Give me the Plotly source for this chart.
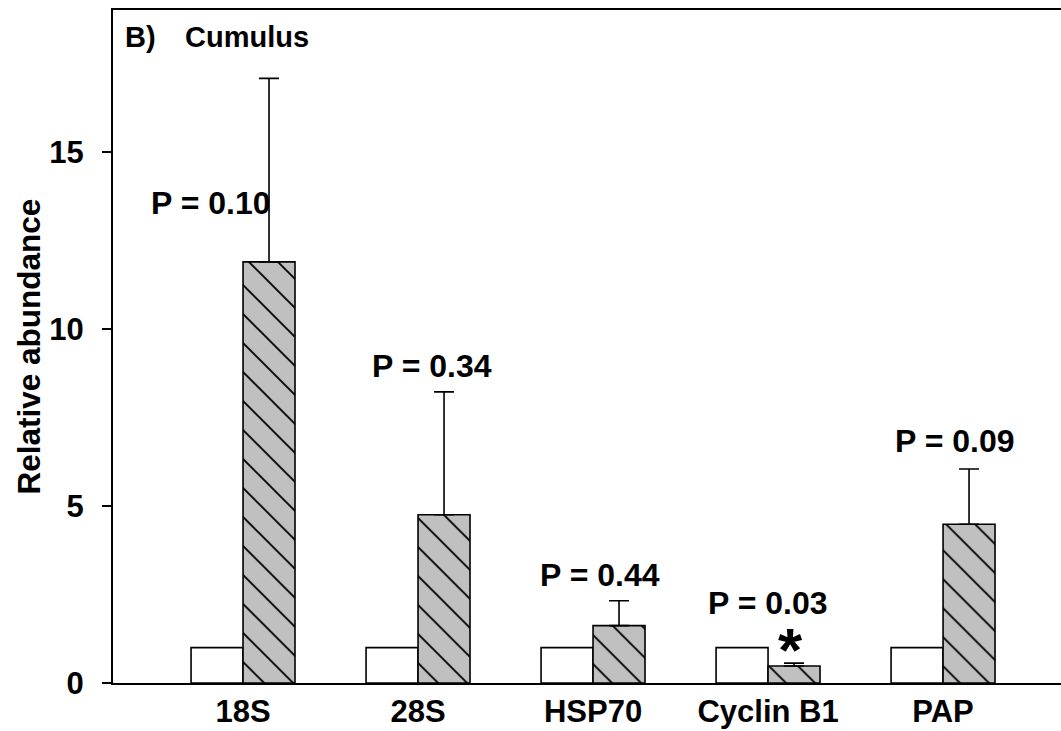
import plotly.graph_objects as go

# ---- data ----
genes = ["18S", "28S", "HSP70", "Cyclin B1", "PAP"]
control = [1.0, 1.0, 1.0, 1.0, 1.0]
treated = [11.89, 4.75, 1.62, 0.48, 4.48]
treated_err = [5.18, 3.47, 0.70, 0.08, 1.56]
p_labels = ["P = 0.10", "P = 0.34", "P = 0.44", "P = 0.03", "P = 0.09"]
y_ticks = [0, 5, 10, 15]

# ---- layout constants ----
FONT = "Liberation Sans, Arial, Helvetica, sans-serif"
BAR_W = 0.297
xpos = list(range(len(genes)))
# label positions (x offset from category, y in data units)
p_pos = [(-0.183, 13.55), (0.08, 8.95), (0.04, 3.05), (0.0, 2.26), (0.07, 6.83)]

fig = go.Figure()
fig.add_trace(go.Bar(
    x=xpos, y=control, width=BAR_W, offset=-BAR_W,
    marker=dict(color="white", line=dict(color="black", width=1.6)),
    showlegend=False,
))
fig.add_trace(go.Bar(
    x=xpos, y=treated, width=BAR_W, offset=0,
    marker=dict(
        color="#c0c0c0",
        line=dict(color="black", width=1.6),
        pattern=dict(shape="\\", size=20.5, solidity=0.09,
                     fgcolor="black", bgcolor="#c0c0c0", fillmode="replace"),
    ),
    error_y=dict(type="data", symmetric=False, array=treated_err,
                 arrayminus=[0] * len(treated_err),
                 color="black", thickness=1.6, width=10),
    showlegend=False,
))

annotations = []
for i, (txt, (dx, yy)) in enumerate(zip(p_labels, p_pos)):
    annotations.append(dict(
        x=xpos[i] + dx, y=yy, xref="x", yref="y", text=txt, showarrow=False,
        xanchor="center", yanchor="middle",
        font=dict(family=FONT, size=32, color="black", weight="bold"),
    ))
# significance asterisk over Cyclin B1 treated bar
annotations.append(dict(
    x=xpos[3] + 0.126, y=0.95, xref="x", yref="y", text="*", showarrow=False,
    xanchor="center", yanchor="middle",
    font=dict(family=FONT, size=62, color="black", weight="bold"),
))
# panel title
annotations.append(dict(
    x=10 / 948, y=(683 - 37) / 673, xref="paper", yref="paper", text="B)",
    showarrow=False, xanchor="left", yanchor="middle",
    font=dict(family=FONT, size=29, color="black", weight="bold"),
))
annotations.append(dict(
    x=70 / 948, y=(683 - 37) / 673, xref="paper", yref="paper", text="Cumulus",
    showarrow=False, xanchor="left", yanchor="middle",
    font=dict(family=FONT, size=29, color="black", weight="bold"),
))
# y axis title
annotations.append(dict(
    x=(28 - 113) / 948, y=0.5, xref="paper", yref="paper",
    text="Relative abundance", textangle=-90, showarrow=False,
    xanchor="center", yanchor="middle",
    font=dict(family=FONT, size=31.5, color="black", weight="bold"),
))

fig.update_layout(
    width=1061, height=731,
    margin=dict(l=113, r=0, t=10, b=48),
    paper_bgcolor="white", plot_bgcolor="white",
    barmode="overlay",
    annotations=annotations,
    xaxis=dict(
        range=[-0.743, 4.674], tickmode="array", tickvals=xpos, ticktext=genes,
        showline=True, linecolor="black", linewidth=2, mirror=True,
        ticks="", showgrid=False, zeroline=False,
        tickfont=dict(family=FONT, size=31, color="black", weight="bold"),
    ),
    yaxis=dict(
        range=[0, 19.0], tickmode="array", tickvals=y_ticks,
        showline=True, linecolor="black", linewidth=2,
        ticks="outside", ticklen=9, tickwidth=1.6, tickcolor="black",
        ticklabelstandoff=12,
        showgrid=False, zeroline=False,
        tickfont=dict(family=FONT, size=31, color="black", weight="bold"),
    ),
)

fig.write_html("out.html")
